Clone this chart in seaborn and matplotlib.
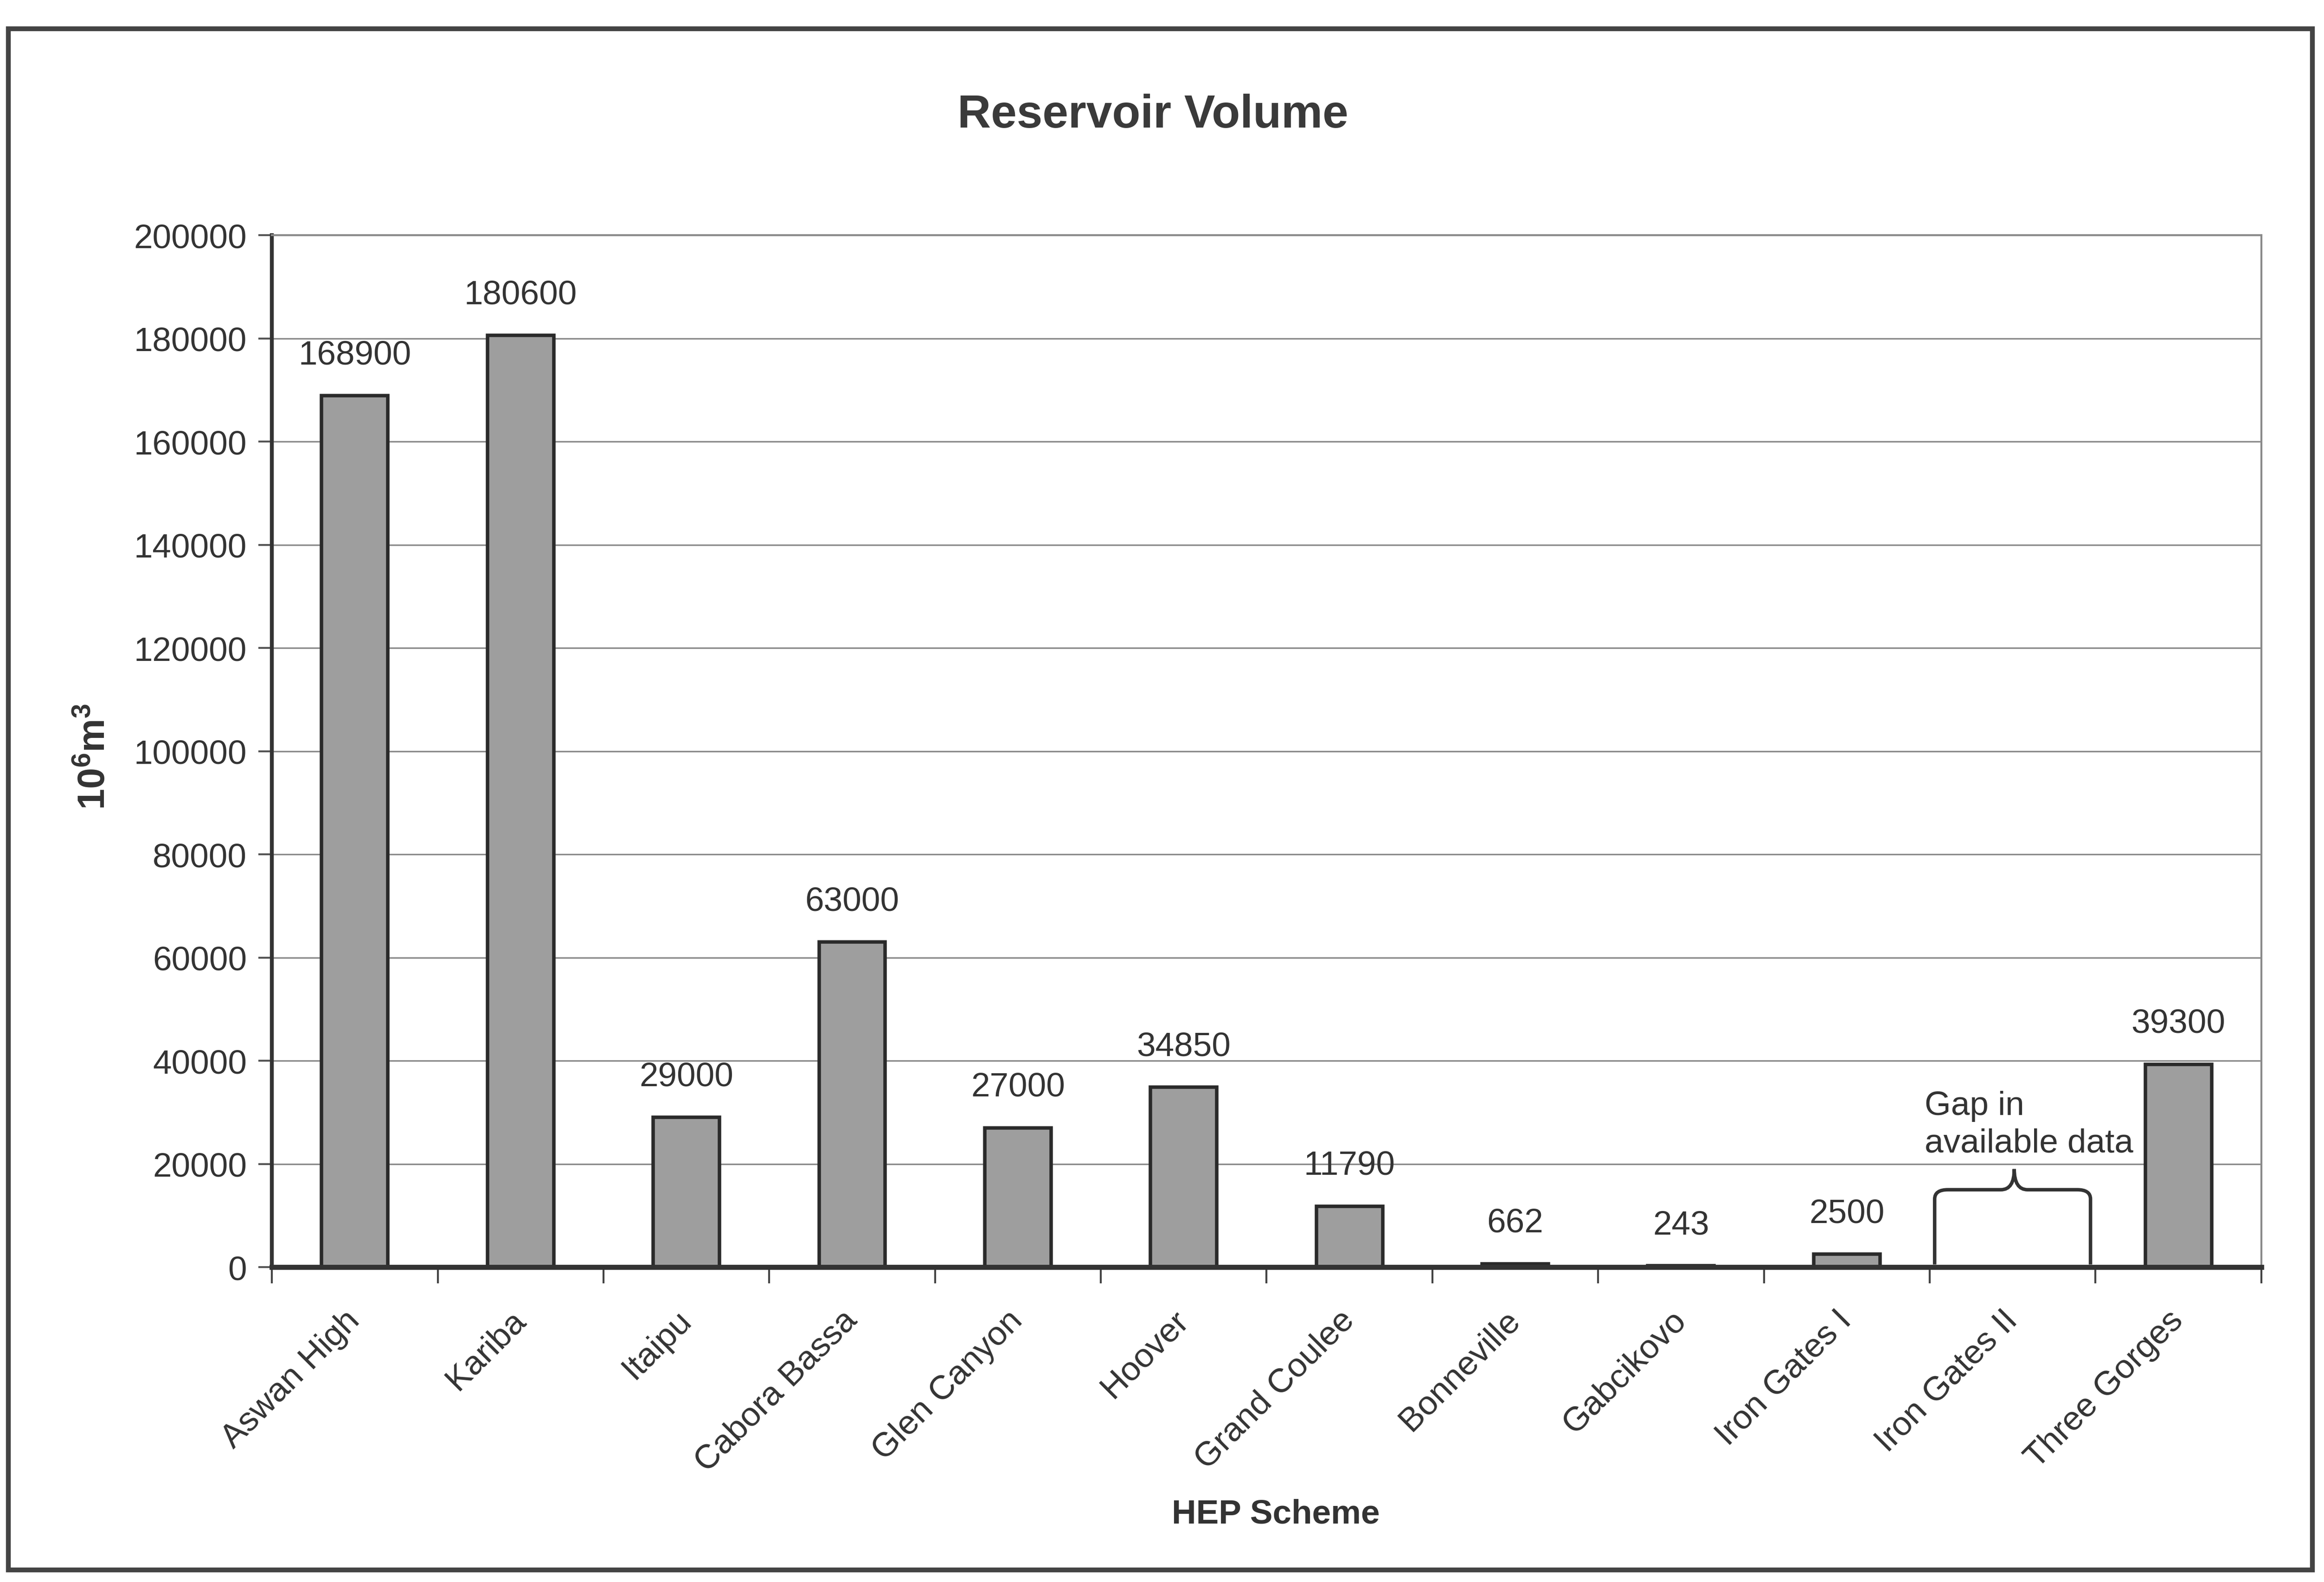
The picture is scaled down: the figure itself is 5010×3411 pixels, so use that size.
import numpy as np
import pandas as pd
import matplotlib
matplotlib.use("Agg")
import matplotlib.pyplot as plt
from matplotlib.path import Path
from matplotlib.patches import PathPatch, Rectangle
from matplotlib.ticker import FixedLocator, FuncFormatter
import seaborn as sns

# Reservoir volume (10^6 m^3) per hydro-electric scheme
schemes = ["Aswan High", "Kariba", "Itaipu", "Cabora Bassa", "Glen Canyon",
           "Hoover", "Grand Coulee", "Bonneville", "Gabcikovo",
           "Iron Gates I", "Iron Gates II", "Three Gorges"]
volumes = [168900, 180600, 29000, 63000, 27000, 34850, 11790, 662, 243,
           2500, np.nan, 39300]
y_ticks = [0, 20000, 40000, 60000, 80000, 100000, 120000, 140000,
           160000, 180000, 200000]
missing_scheme = "Iron Gates II"

sns.set_theme(style="white")
plt.rcParams["font.family"] = ["Liberation Sans", "DejaVu Sans"]
plt.rcParams["mathtext.fontset"] = "custom"
plt.rcParams["mathtext.rm"] = "Liberation Sans"
plt.rcParams["mathtext.bf"] = "Liberation Sans:bold"

TEXT = "#333333"
FS = 17.5

df = pd.DataFrame({"scheme": schemes, "volume": volumes})

fig = plt.figure(figsize=(16.7, 11.3733), dpi=300)
ax = fig.add_axes([0.117, 0.199, 0.856, 0.652])

sns.barplot(data=df, x="scheme", y="volume", order=schemes, ax=ax,
            color="#9e9e9e", saturation=1, edgecolor="#2a2a2a",
            linewidth=1.8, width=0.4, errorbar=None, zorder=3)

ax.set_xlim(-0.5, len(schemes) - 0.5)
ax.set_ylim(y_ticks[0], y_ticks[-1])

# horizontal gridlines
ax.yaxis.set_major_locator(FixedLocator(y_ticks))
ax.yaxis.set_major_formatter(FuncFormatter(lambda v, p: f"{int(v)}"))
ax.grid(axis="y", color="#8a8a8a", linewidth=0.8, zorder=0)
ax.grid(axis="x", visible=False)

# y ticks point outwards
ax.tick_params(axis="y", which="major", direction="out", length=7,
               width=1.0, color="#555555", pad=6, labelsize=FS,
               labelcolor=TEXT, left=True)

# category labels at the centres, tick marks between categories
ax.set_xticks(range(len(schemes)))
ax.set_xticklabels(schemes, rotation=45, ha="right", va="center",
                   rotation_mode="anchor", fontsize=FS, color=TEXT)
ax.tick_params(axis="x", which="major", length=0, pad=25)
ax.set_xticks(np.arange(-0.5, len(schemes), 1.0), minor=True)
ax.tick_params(axis="x", which="minor", direction="out", length=8.5,
               width=1.0, color="#444444", bottom=True)

ax.set_xlabel("")
ax.set_ylabel("")

for side in ["top", "right"]:
    ax.spines[side].set_color("#8a8a8a")
    ax.spines[side].set_linewidth(1.0)
ax.spines["left"].set_color("#333333")
ax.spines["left"].set_linewidth(2.0)
ax.spines["bottom"].set_color("#333333")
ax.spines["bottom"].set_linewidth(2.6)
ax.spines["bottom"].set_zorder(4)

# value labels above each bar
for i, v in enumerate(volumes):
    if np.isnan(v):
        continue
    ax.annotate(f"{int(v)}", (i, v), xytext=(0, 13), textcoords="offset points",
                ha="center", va="bottom", fontsize=FS, color=TEXT)

# brace marking the category without data
k = schemes.index(missing_scheme)
x0, x1, xc = k - 0.47, k + 0.47, k + 0.01
yb, ym, yt = 500, 15000, 19000
rx, ry = 0.08, 1800
verts = [(x0, yb), (x0, ym - ry), (x0, ym), (x0 + rx, ym),
         (xc - rx, ym), (xc, ym), (xc, yt),
         (xc, ym), (xc + rx, ym),
         (x1 - rx, ym), (x1, ym), (x1, ym - ry), (x1, yb)]
codes = [Path.MOVETO, Path.LINETO, Path.CURVE3, Path.CURVE3,
         Path.LINETO, Path.CURVE3, Path.CURVE3,
         Path.CURVE3, Path.CURVE3,
         Path.LINETO, Path.CURVE3, Path.CURVE3, Path.LINETO]
ax.add_patch(PathPatch(Path(verts, codes), facecolor="none",
                       edgecolor="#333333", linewidth=1.8, zorder=5))
ax.text(k - 0.53, 21000, "Gap in\navailable data", ha="left", va="bottom",
        fontsize=FS, color=TEXT, linespacing=1.25, zorder=5)

# titles
fig.text(0.496, 0.927, "Reservoir Volume", ha="center", va="center",
         fontsize=24, fontweight="bold", color="#3a3a3a")
fig.text(0.041, 0.522, r"$\mathbf{10^6m^3}$", ha="center", va="center",
         rotation=90, fontsize=19.5, color=TEXT)
fig.text(0.549, 0.043, "HEP Scheme", ha="center", va="center",
         fontsize=FS, fontweight="bold", color=TEXT)

# outer chart border
fig.patches.append(Rectangle((0.0035, 0.0075), 0.9915, 0.974,
                             transform=fig.transFigure, fill=False,
                             edgecolor="#444444", linewidth=2.5))

fig.savefig("out.png", dpi=300, facecolor="white")
